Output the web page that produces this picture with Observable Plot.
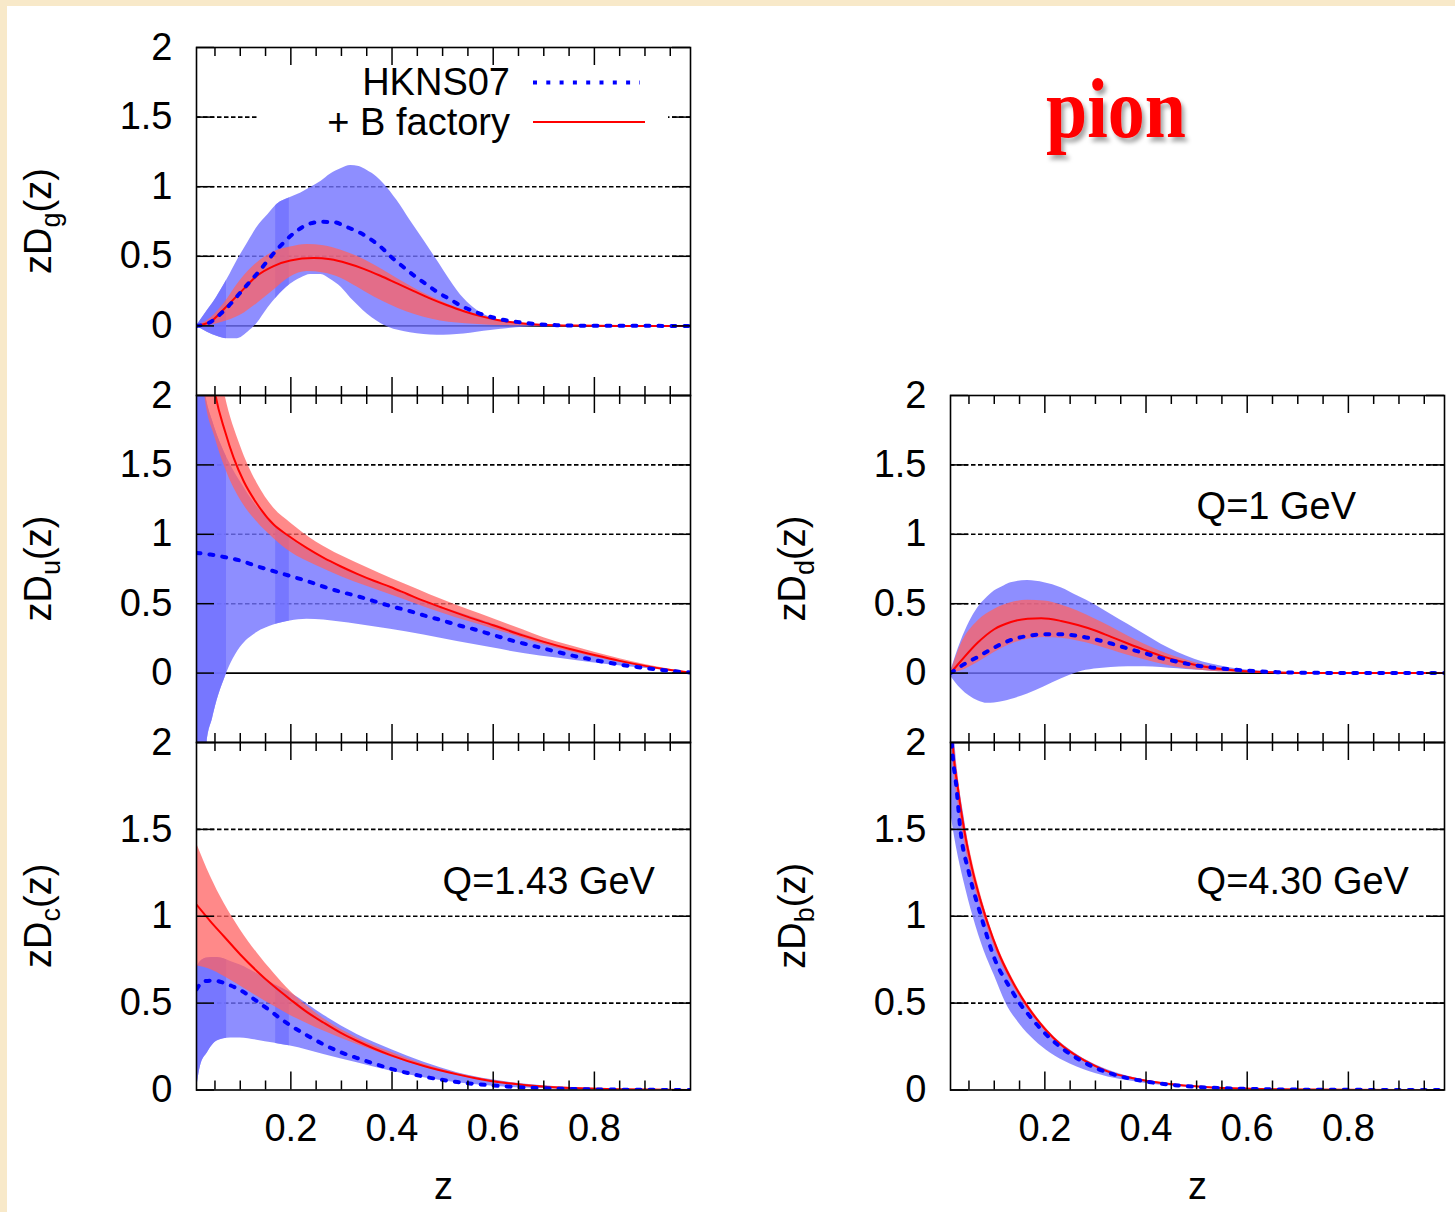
<!DOCTYPE html>
<html>
<head>
<meta charset="utf-8">
<script src="https://cdn.jsdelivr.net/npm/d3@7"></script>
<script src="https://cdn.jsdelivr.net/npm/@observablehq/plot@0.6"></script>
<style>
  html, body { margin: 0; padding: 0; }
  body { width: 1455px; height: 1212px; position: relative; overflow: hidden;
         background: #f8e9c9; font-family: "Liberation Sans", Arial, sans-serif; }
  #paper { position: absolute; left: 7px; top: 6px; width: 1448px; height: 1206px; background: #fff; }
  .panel { position: absolute; }
  .overlay { position: absolute; left: 0; top: 0; overflow: visible; }
</style>
</head>
<body>
<div id="paper"></div>
<div id="charts"></div>
<script>
// ---------------- data ----------------
const xDomain = [0.0135, 0.99];
const majorX = [0.2, 0.4, 0.6, 0.8];
const minorX = [0.05, 0.1, 0.15, 0.25, 0.3, 0.35, 0.45, 0.5, 0.55, 0.65, 0.7, 0.75, 0.85, 0.9, 0.95];
const yTickValues = [0, 0.5, 1, 1.5, 2];
const gridValues = [0.5, 1, 1.5];
const xTickLabels = [0.2, 0.4, 0.6, 0.8];
const legendLabels = ["HKNS07", "+ B factory"];
const titleText = "pion";

// --- gluon, Q=1 GeV ---
const g_hkns = [[0.0135,0],[0.038,0.022],[0.0675,0.108],[0.107,0.268],[0.133,0.375],[0.173,0.55],[0.209,0.675],[0.232,0.727],[0.259,0.748],[0.285,0.745],[0.311,0.71],[0.338,0.667],[0.361,0.614],[0.38,0.56],[0.4,0.49],[0.42,0.43],[0.443,0.363],[0.466,0.303],[0.489,0.244],[0.512,0.196],[0.539,0.14],[0.565,0.1],[0.591,0.069],[0.618,0.045],[0.647,0.029],[0.674,0.017],[0.726,0.005],[0.8,0.001],[0.99,0]];
const g_bfac = [[0.0135,0],[0.041,0.03],[0.0675,0.12],[0.1,0.24],[0.133,0.36],[0.166,0.43],[0.199,0.47],[0.245,0.487],[0.278,0.478],[0.311,0.45],[0.344,0.41],[0.377,0.36],[0.41,0.305],[0.443,0.25],[0.476,0.196],[0.509,0.148],[0.542,0.105],[0.575,0.07],[0.608,0.043],[0.647,0.022],[0.693,0.008],[0.76,0.002],[0.85,0],[0.99,0]];
const g_bfacBand = [[0.0135,0,0],[0.041,0.005,0.055],[0.0675,0.029,0.16],[0.1,0.076,0.327],[0.133,0.16,0.452],[0.166,0.256,0.53],[0.199,0.351,0.566],[0.232,0.39,0.585],[0.265,0.38,0.576],[0.298,0.345,0.545],[0.331,0.28,0.5],[0.364,0.21,0.44],[0.397,0.15,0.37],[0.43,0.1,0.3],[0.463,0.062,0.235],[0.496,0.036,0.178],[0.529,0.02,0.128],[0.562,0.011,0.088],[0.595,0.005,0.057],[0.627,0.002,0.034],[0.66,0.001,0.018],[0.7,0,0.007],[0.75,0,0.002],[0.85,0,0],[0.99,0,0]];
const g_hknsBand = [[0.0135,0,0],[0.035,-0.045,0.11],[0.054,-0.075,0.21],[0.075,-0.093,0.34],[0.094,-0.092,0.47],[0.115,-0.045,0.6],[0.133,0.017,0.707],[0.155,0.13,0.8],[0.173,0.21,0.874],[0.199,0.3,0.922],[0.22,0.345,0.955],[0.239,0.37,0.994],[0.26,0.37,1.04],[0.278,0.335,1.09],[0.3,0.275,1.13],[0.318,0.2,1.152],[0.335,0.14,1.145],[0.351,0.085,1.116],[0.37,0.035,1.07],[0.384,0.005,1.02],[0.41,-0.03,0.9],[0.436,-0.05,0.757],[0.463,-0.062,0.614],[0.489,-0.067,0.471],[0.515,-0.065,0.327],[0.542,-0.058,0.196],[0.568,-0.045,0.112],[0.595,-0.033,0.06],[0.627,-0.02,0.029],[0.66,-0.01,0.012],[0.693,-0.005,0.004],[0.75,-0.002,0.001],[0.85,0,0],[0.99,0,0]];

// --- u quark, Q=1 GeV ---
const u_hkns = [[0.0135,0.866],[0.041,0.854],[0.0675,0.837],[0.1,0.811],[0.133,0.77],[0.173,0.727],[0.199,0.699],[0.232,0.663],[0.265,0.622],[0.298,0.586],[0.331,0.555],[0.364,0.519],[0.397,0.483],[0.43,0.452],[0.463,0.416],[0.496,0.383],[0.529,0.347],[0.562,0.316],[0.595,0.28],[0.628,0.244],[0.66,0.213],[0.693,0.184],[0.726,0.153],[0.759,0.124],[0.792,0.1],[0.825,0.077],[0.858,0.057],[0.891,0.041],[0.924,0.026],[0.957,0.014],[0.99,0.004]];
const u_bfac = [[0.0135,3.6],[0.03,2.55],[0.05,2.02],[0.07,1.74],[0.087,1.55],[0.107,1.38],[0.133,1.22],[0.166,1.07],[0.193,0.995],[0.232,0.9],[0.265,0.83],[0.298,0.77],[0.331,0.715],[0.364,0.665],[0.397,0.62],[0.43,0.57],[0.463,0.52],[0.5,0.47],[0.55,0.405],[0.6,0.345],[0.66,0.27],[0.7,0.225],[0.75,0.175],[0.8,0.13],[0.85,0.088],[0.9,0.052],[0.95,0.022],[0.99,0.003]];
const u_bfacBand = [[0.0135,2.8,4.5],[0.03,2.0,3.15],[0.05,1.7,2.4],[0.07,1.48,2.0],[0.1,1.25,1.64],[0.133,1.09,1.37],[0.166,0.97,1.19],[0.2,0.87,1.08],[0.25,0.775,0.945],[0.3,0.695,0.845],[0.35,0.625,0.76],[0.4,0.56,0.68],[0.45,0.495,0.605],[0.5,0.432,0.528],[0.55,0.373,0.458],[0.6,0.318,0.392],[0.66,0.25,0.31],[0.7,0.205,0.255],[0.75,0.158,0.2],[0.8,0.116,0.15],[0.85,0.078,0.103],[0.9,0.045,0.062],[0.95,0.018,0.028],[0.99,0.002,0.004]];
const u_hknsBand = [[0.0135,-2,2.6],[0.025,-1,2.15],[0.0345,-0.5,1.95],[0.045,-0.33,1.82],[0.054,-0.2,1.72],[0.0675,-0.055,1.6],[0.081,0.065,1.5],[0.1,0.184,1.38],[0.133,0.292,1.2],[0.166,0.347,1.07],[0.199,0.376,0.97],[0.232,0.388,0.89],[0.265,0.383,0.82],[0.298,0.368,0.76],[0.331,0.352,0.71],[0.397,0.316,0.61],[0.463,0.275,0.52],[0.529,0.227,0.44],[0.595,0.184,0.36],[0.66,0.141,0.28],[0.726,0.108,0.2],[0.792,0.077,0.135],[0.858,0.05,0.08],[0.924,0.026,0.035],[0.99,0.002,0.003]];

// --- c quark, Q=1.43 GeV ---
const c_hkns = [[0.0135,0.579],[0.028,0.626],[0.048,0.63],[0.0675,0.617],[0.087,0.594],[0.114,0.55],[0.133,0.511],[0.16,0.454],[0.18,0.41],[0.199,0.372],[0.232,0.314],[0.265,0.262],[0.298,0.218],[0.331,0.184],[0.397,0.123],[0.463,0.077],[0.529,0.046],[0.595,0.027],[0.66,0.015],[0.726,0.008],[0.792,0.004],[0.99,0]];
const c_bfac = [[0.0135,1.067],[0.041,0.971],[0.0675,0.885],[0.1,0.78],[0.133,0.684],[0.166,0.598],[0.199,0.521],[0.232,0.448],[0.265,0.387],[0.298,0.33],[0.331,0.282],[0.364,0.239],[0.397,0.201],[0.463,0.138],[0.529,0.09],[0.595,0.052],[0.66,0.029],[0.726,0.015],[0.792,0.008],[0.858,0.004],[0.99,0]];
const c_bfacBand = [[0.0135,0.713,1.42],[0.041,0.694,1.23],[0.0675,0.655,1.077],[0.1,0.598,0.923],[0.133,0.54,0.79],[0.166,0.483,0.674],[0.199,0.429,0.569],[0.232,0.383,0.483],[0.265,0.339,0.41],[0.331,0.262,0.3],[0.397,0.192,0.218],[0.463,0.132,0.148],[0.529,0.084,0.096],[0.595,0.048,0.057],[0.66,0.025,0.033],[0.726,0.011,0.019],[0.792,0.006,0.01],[0.924,0.001,0.002],[0.99,0,0]];
const c_hknsBand = [[0.0135,0,0.7],[0.0214,0.138,0.74],[0.035,0.215,0.76],[0.054,0.282,0.762],[0.081,0.3,0.74],[0.1,0.3,0.72],[0.133,0.287,0.67],[0.166,0.27,0.61],[0.199,0.253,0.56],[0.265,0.205,0.43],[0.331,0.157,0.32],[0.397,0.109,0.235],[0.463,0.071,0.16],[0.529,0.042,0.1],[0.595,0.023,0.06],[0.66,0.011,0.034],[0.726,0.006,0.018],[0.792,0.002,0.009],[0.9,0,0.002],[0.99,0,0]];

// --- d quark, Q=1 GeV ---
const d_hkns = [[0.0135,0],[0.041,0.065],[0.0675,0.117],[0.1,0.184],[0.133,0.239],[0.166,0.268],[0.199,0.28],[0.232,0.28],[0.265,0.268],[0.298,0.244],[0.331,0.213],[0.364,0.177],[0.397,0.144],[0.43,0.108],[0.463,0.081],[0.496,0.057],[0.529,0.041],[0.562,0.029],[0.595,0.019],[0.627,0.012],[0.66,0.007],[0.726,0.002],[0.99,0]];
const d_bfac = [[0.0135,0],[0.0345,0.089],[0.0675,0.22],[0.1,0.316],[0.133,0.368],[0.166,0.392],[0.193,0.395],[0.232,0.376],[0.265,0.347],[0.298,0.309],[0.331,0.261],[0.364,0.213],[0.397,0.167],[0.43,0.124],[0.463,0.089],[0.496,0.06],[0.529,0.038],[0.562,0.024],[0.595,0.014],[0.66,0.005],[0.75,0.001],[0.99,0]];
const d_bfacBand = [[0.0135,0,0],[0.0345,0.017,0.208],[0.0675,0.077,0.376],[0.1,0.148,0.459],[0.133,0.208,0.507],[0.166,0.244,0.524],[0.199,0.256,0.519],[0.232,0.251,0.49],[0.265,0.232,0.447],[0.298,0.203,0.392],[0.331,0.167,0.333],[0.364,0.129,0.268],[0.397,0.096,0.208],[0.43,0.065,0.156],[0.463,0.041,0.112],[0.496,0.024,0.077],[0.529,0.014,0.05],[0.562,0.008,0.031],[0.595,0.005,0.019],[0.66,0.001,0.007],[0.75,0,0.001],[0.99,0,0]];
const d_hknsBand = [[0.0135,-0.02,0.01],[0.0345,-0.115,0.232],[0.0675,-0.199,0.471],[0.087,-0.218,0.55],[0.1,-0.215,0.591],[0.12,-0.203,0.63],[0.133,-0.19,0.651],[0.166,-0.151,0.667],[0.199,-0.098,0.651],[0.232,-0.043,0.615],[0.265,0.005,0.555],[0.298,0.029,0.495],[0.331,0.041,0.423],[0.364,0.045,0.352],[0.397,0.045,0.28],[0.43,0.041,0.208],[0.463,0.031,0.148],[0.496,0.022,0.1],[0.529,0.014,0.065],[0.562,0.009,0.041],[0.595,0.005,0.024],[0.627,0.003,0.014],[0.66,0.001,0.007],[0.75,0,0.001],[0.99,0,0]];

// --- b quark, Q=4.30 GeV ---
const b_hkns = [[0.0135,2.15],[0.016,2.0],[0.025,1.75],[0.033,1.5],[0.05,1.25],[0.074,1.0],[0.1,0.76],[0.133,0.58],[0.15,0.5],[0.166,0.44],[0.199,0.33],[0.232,0.245],[0.265,0.18],[0.298,0.13],[0.331,0.094],[0.364,0.068],[0.397,0.05],[0.463,0.026],[0.529,0.013],[0.595,0.007],[0.66,0.003],[0.8,0.001],[0.99,0]];
const b_bfac = [[0.0135,2.3],[0.018,2.0],[0.028,1.74],[0.041,1.49],[0.055,1.29],[0.07,1.12],[0.087,0.96],[0.107,0.8],[0.133,0.64],[0.166,0.48],[0.2,0.352],[0.232,0.26],[0.265,0.192],[0.3,0.137],[0.33,0.1],[0.365,0.073],[0.4,0.053],[0.46,0.03],[0.53,0.015],[0.6,0.008],[0.66,0.004],[0.8,0.001],[0.99,0]];
const b_bfacBand = [[0.0135,2.1,2.5],[0.018,1.9,2.1],[0.028,1.66,1.82],[0.041,1.43,1.55],[0.055,1.24,1.34],[0.07,1.08,1.16],[0.087,0.93,0.99],[0.107,0.775,0.825],[0.133,0.62,0.66],[0.166,0.465,0.495],[0.2,0.34,0.364],[0.232,0.25,0.27],[0.265,0.184,0.2],[0.3,0.131,0.143],[0.33,0.096,0.105],[0.365,0.07,0.077],[0.4,0.05,0.056],[0.46,0.028,0.032],[0.53,0.014,0.016],[0.6,0.007,0.009],[0.7,0.002,0.003],[0.99,0,0]];
const b_hknsBand = [[0.0135,1.6,2.4],[0.025,1.4,1.9],[0.04,1.2,1.58],[0.058,1.0,1.28],[0.08,0.8,1.05],[0.1,0.66,0.87],[0.123,0.5,0.7],[0.15,0.38,0.56],[0.18,0.285,0.43],[0.21,0.215,0.33],[0.25,0.15,0.23],[0.3,0.095,0.145],[0.35,0.06,0.09],[0.4,0.038,0.056],[0.5,0.014,0.021],[0.6,0.005,0.008],[0.7,0.001,0.003],[0.99,0,0]];

// annotations: [label, z, value]
const annotations = { c: ["Q=1.43 GeV", 0.5, 1.2], d: ["Q=1 GeV", 0.5, 1.2], b: ["Q=4.30 GeV", 0.5, 1.2] };
// artifact strips of the error band (darker overlaps), z ranges
const darkStrips = [[0.0135, 0.073], [0.17, 0.197]];

// ---------------- styling / layout ----------------
const BLUE = "#7272ff", BLUE_OP = 0.8;
const PINK = "#ff6262", PINK_OP = 0.75;
const FONT = "'Liberation Sans', Arial, Helvetica, sans-serif";
const INNER_W = 494, ML = 196, MR = 24;

const panels = [
  {id: "g", sub: "g", left: 0,   frameTop: 46.5,  frameH: 348,   yDomain: [-0.5, 2], zero: true,  xAxis: false, hkns: g_hkns, bfac: g_bfac, bfacBand: g_bfacBand, hknsBand: g_hknsBand, dark: darkStrips},
  {id: "u", sub: "u", left: 0,   frameTop: 394.5, frameH: 347,   yDomain: [-0.5, 2], zero: true,  xAxis: false, hkns: u_hkns, bfac: u_bfac, bfacBand: u_bfacBand, hknsBand: u_hknsBand, dark: darkStrips},
  {id: "c", sub: "c", left: 0,   frameTop: 741.5, frameH: 347.5, yDomain: [0, 2],    zero: false, xAxis: true,  hkns: c_hkns, bfac: c_bfac, bfacBand: c_bfacBand, hknsBand: c_hknsBand, dark: darkStrips},
  {id: "d", sub: "d", left: 754, frameTop: 394.5, frameH: 347,   yDomain: [-0.5, 2], zero: true,  xAxis: false, hkns: d_hkns, bfac: d_bfac, bfacBand: d_bfacBand, hknsBand: d_hknsBand, dark: []},
  {id: "b", sub: "b", left: 754, frameTop: 741.5, frameH: 347.5, yDomain: [0, 2],    zero: false, xAxis: true,  hkns: b_hkns, bfac: b_bfac, bfacBand: b_bfacBand, hknsBand: b_hknsBand, dark: []}
];

const charts = document.getElementById("charts");

function makePanel(p) {
  const mt = 30, mb = p.xAxis ? 140 : 30;
  const innerH = p.frameH;
  const height = mt + innerH + mb, width = ML + INNER_W + MR;
  const yT = yTickValues.filter(v => v >= p.yDomain[0] && v <= p.yDomain[1]);
  const bandOpts = {x: d => d[0], y1: d => d[1], y2: d => d[2], curve: "monotone-x"};
  const lineOpts = {x: d => d[0], y: d => d[1], curve: "monotone-x", clip: true};
  const tick = {stroke: "#000", strokeWidth: 1.5};
  const marks = [
    Plot.ruleY(gridValues, {stroke: "#000", strokeWidth: 1.6, strokeDasharray: "4.5,2.5"}),
    p.zero ? Plot.ruleY([0], {stroke: "#000", strokeWidth: 1.7}) : null,
    Plot.areaY(p.hknsBand, {...bandOpts, fill: BLUE, fillOpacity: BLUE_OP, clip: true}),
    ...p.dark.map(() => Plot.areaY(p.hknsBand, {...bandOpts, fill: BLUE, fillOpacity: BLUE_OP})),
    Plot.areaY(p.bfacBand, {...bandOpts, fill: PINK, fillOpacity: PINK_OP, clip: true}),
    Plot.line(p.bfac, {...lineOpts, stroke: "#ff0000", strokeWidth: 2}),
    Plot.line(p.hkns, {...lineOpts, stroke: "#0000ff", strokeWidth: 4, strokeDasharray: "4,9"}),
    Plot.ruleX(majorX, {...tick, insetBottom: innerH - 18}),
    Plot.ruleX(majorX, {...tick, insetTop: innerH - 18}),
    Plot.ruleX(minorX, {...tick, insetBottom: innerH - 9}),
    Plot.ruleX(minorX, {...tick, insetTop: innerH - 9}),
    Plot.ruleY(yT, {...tick, insetRight: INNER_W - 18}),
    Plot.ruleY(yT, {...tick, insetLeft: INNER_W - 18}),
    Plot.frame({stroke: "#000", strokeWidth: 1.6}),
    Plot.axisY(yT, {tickSize: 0, tickPadding: 24, tickFormat: d => String(d), label: null}),
    p.xAxis ? Plot.axisX(xTickLabels, {tickSize: 0, tickPadding: 24, tickFormat: d => String(d), label: null}) : null,
    p.xAxis ? Plot.text(["z"], {frameAnchor: "bottom", dy: 97, lineAnchor: "middle", text: d => d}) : null,
    annotations[p.id] ? Plot.text([annotations[p.id]], {x: d => d[1], y: d => d[2], text: d => d[0], textAnchor: "start", lineAnchor: "middle"}) : null
  ].filter(Boolean);

  const plot = Plot.plot({
    width, height,
    marginLeft: ML, marginRight: MR, marginTop: mt, marginBottom: mb,
    x: {domain: xDomain, axis: p.xAxis ? undefined : null},
    y: {domain: p.yDomain},
    style: {background: "transparent", fontFamily: FONT, fontSize: "38px", color: "#000", overflow: "visible"},
    marks
  });

  // darker overlap strips: the overlay copies of the band (area groups 1..n) are clipped to their z ranges
  const xs = plot.scale("x");
  const svgNS = "http://www.w3.org/2000/svg";
  const areaGroups = plot.querySelectorAll('g[aria-label="area"]');
  let defs = plot.querySelector("defs");
  if (!defs) { defs = document.createElementNS(svgNS, "defs"); plot.insertBefore(defs, plot.firstChild); }
  p.dark.forEach((r, i) => {
    const g = areaGroups[1 + i];
    if (!g) return;
    const id = `clip-${p.id}-${i}`;
    const cp = document.createElementNS(svgNS, "clipPath");
    cp.setAttribute("id", id);
    const rect = document.createElementNS(svgNS, "rect");
    const x0 = xs.apply(r[0]), x1 = xs.apply(r[1]);
    rect.setAttribute("x", x0); rect.setAttribute("y", mt);
    rect.setAttribute("width", x1 - x0); rect.setAttribute("height", innerH);
    cp.appendChild(rect); defs.appendChild(cp);
    g.setAttribute("clip-path", `url(#${id})`);
  });

  // y-axis title with subscript
  const t = d3.select(plot).append("text")
    .attr("transform", `translate(51,${mt + innerH / 2}) rotate(-90)`)
    .attr("text-anchor", "middle")
    .attr("font-size", 38).attr("font-family", FONT).attr("fill", "#000");
  t.append("tspan").text("zD");
  t.append("tspan").attr("dy", 9).attr("font-size", 27).text(p.sub);
  t.append("tspan").attr("dy", -9).text("(z)");

  const wrap = document.createElement("div");
  wrap.className = "panel";
  wrap.style.left = p.left + "px";
  wrap.style.top = (p.frameTop - mt) + "px";
  wrap.style.width = width + "px";
  wrap.appendChild(plot);
  charts.appendChild(wrap);
}

panels.forEach(makePanel);

// legend (inside the gluon panel, opaque box) and title
const ov = d3.select("body").append("svg").attr("class", "overlay")
  .attr("width", 1455).attr("height", 220);
const defs = ov.append("defs");
const f = defs.append("filter").attr("id", "shadow").attr("x", "-20%").attr("y", "-20%").attr("width", "150%").attr("height", "150%");
f.append("feDropShadow").attr("dx", 3).attr("dy", 4).attr("stdDeviation", 2).attr("flood-color", "#000").attr("flood-opacity", 0.35);

ov.append("rect").attr("x", 258).attr("y", 67).attr("width", 410).attr("height", 73).attr("fill", "#fff");
ov.append("text").attr("x", 510).attr("y", 95).attr("text-anchor", "end")
  .attr("font-family", FONT).attr("font-size", 38).attr("fill", "#000").text(legendLabels[0]);
ov.append("line").attr("x1", 533).attr("x2", 640).attr("y1", 82.5).attr("y2", 82.5)
  .attr("stroke", "#0000ff").attr("stroke-width", 4).attr("stroke-dasharray", "4,9.3");
ov.append("text").attr("x", 510).attr("y", 135).attr("text-anchor", "end")
  .attr("font-family", FONT).attr("font-size", 38).attr("fill", "#000").text(legendLabels[1]);
ov.append("line").attr("x1", 533).attr("x2", 645).attr("y1", 122).attr("y2", 122)
  .attr("stroke", "#ff0000").attr("stroke-width", 2);

ov.append("text").attr("transform", "translate(1116,137) scale(1,1.13)")
  .attr("text-anchor", "middle")
  .attr("font-family", "'Liberation Serif', 'Times New Roman', serif")
  .attr("font-weight", "bold").attr("font-size", 74).attr("fill", "#ff0000")
  .attr("filter", "url(#shadow)")
  .text(titleText);
</script>
</body>
</html>
